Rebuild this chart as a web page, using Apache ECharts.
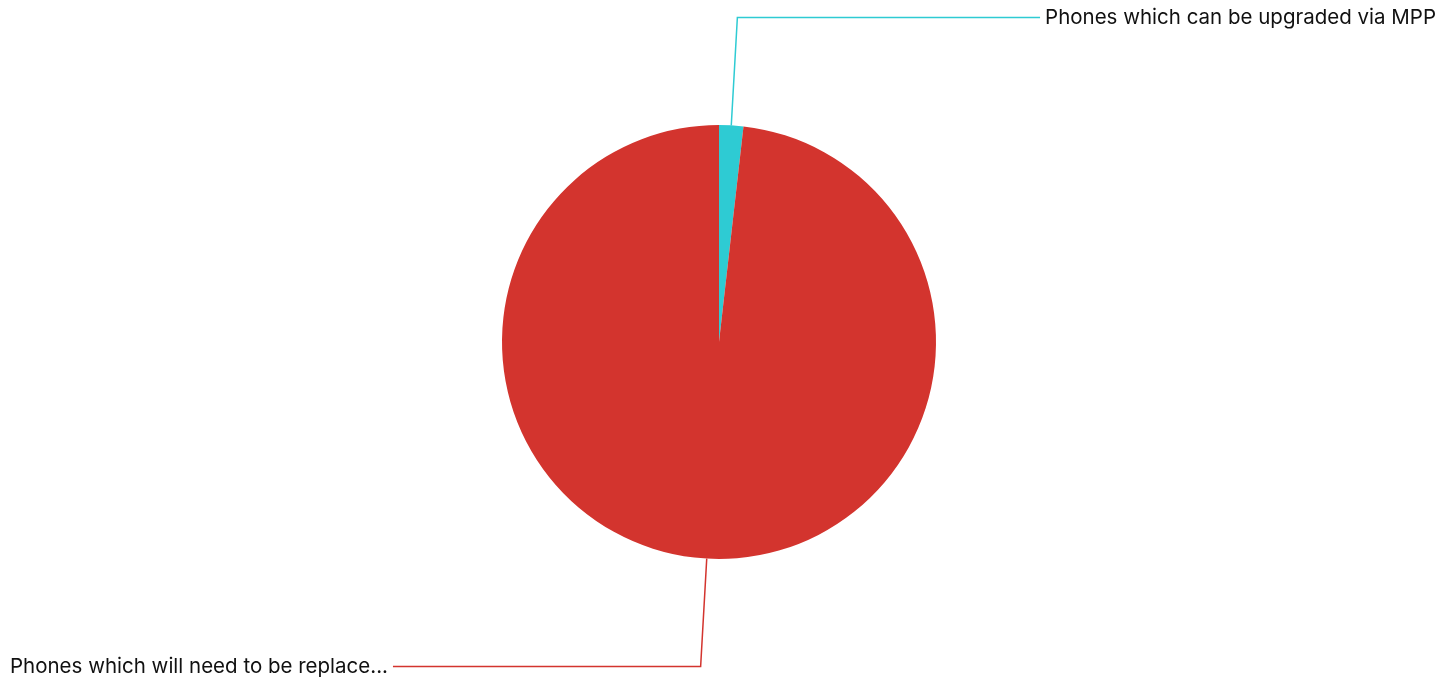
<!DOCTYPE html>
<html><head><meta charset="utf-8">
<script src="https://cdn.jsdelivr.net/npm/echarts@6/dist/echarts.min.js"></script>
<style>html,body{margin:0;padding:0;background:#fff}#c{width:1455px;height:679px}</style>
</head><body><div id="c"></div>
<script>
const categories = ['Phones which can be upgraded via MPP', 'Phones which will need to be replace...'];
const values = [1.8, 98.2];
const colors = ['#2ecbd3', '#d3342e'];
const edgeGaps = [19, 10];
const chart = echarts.init(document.getElementById('c'));
chart.setOption({
  animation: false,
  series: [{
    type: 'pie',
    center: [719, 342],
    radius: 217,
    startAngle: 90,
    clockwise: true,
    data: categories.map((n, i) => ({
      name: n, value: values[i],
      itemStyle: { color: colors[i] },
      label: { edgeDistance: edgeGaps[i] }
    })),
    label: {
      show: true,
      formatter: '{b}',
      alignTo: 'edge',
      edgeDistance: 10,
      fontFamily: 'Inter',
      fontSize: 20.5,
      color: '#111'
    },
    labelLine: { show: true, length: 108, length2: 20, lineStyle: { width: 1.5 } }
  }]
});
</script></body></html>
